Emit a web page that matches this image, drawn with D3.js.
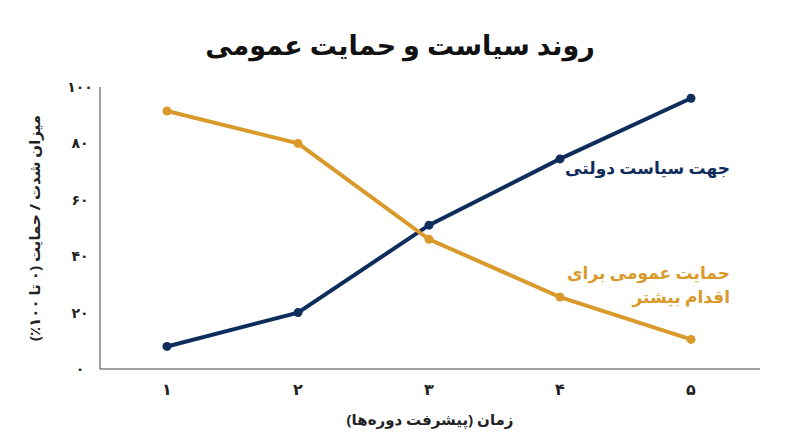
<!DOCTYPE html>
<html><head><meta charset="utf-8">
<script src="https://cdn.jsdelivr.net/npm/d3@7"></script>
<style>body{margin:0;background:#fff}text{font-family:"Noto Sans","DejaVu Sans",sans-serif}</style>
</head><body><svg id="c" width="800" height="447"></svg>
<script>
const periods=[1,2,3,4,5];
const xTickLabels=["۱","۲","۳","۴","۵"];
const yTicks=[0,20,40,60,80,100];
const yTickLabels=["۰","۲۰","۴۰","۶۰","۸۰","۱۰۰"];
const government=[8,20,51,74.5,96];
const publicSupport=[91.5,80,46,25.5,10.5];
const svg=d3.select("#c");
const x=d3.scaleLinear().domain([1,5]).range([167,691]);
const y=d3.scaleLinear().domain([0,100]).range([369,87]);
const navy="#0f2d5c", gold="#d99a2b";
svg.append("text").attr("x",400).attr("y",55).attr("text-anchor","middle").attr("font-size",27).attr("font-weight","bold").attr("fill","#111").text("روند سیاست و حمایت عمومی");
svg.append("line").attr("x1",100).attr("x2",100).attr("y1",87).attr("y2",369).attr("stroke","#444");
svg.append("line").attr("x1",100).attr("x2",760).attr("y1",369).attr("y2",369).attr("stroke","#444");
yTicks.forEach((t,i)=>svg.append("text").attr("x",80).attr("y",y(t)+5).attr("text-anchor","middle").attr("font-size",14).attr("font-weight","bold").attr("fill","#222").text(yTickLabels[i]));
periods.forEach((p,i)=>svg.append("text").attr("x",x(p)).attr("y",395).attr("text-anchor","middle").attr("font-size",16).attr("font-weight","bold").attr("fill","#222").text(xTickLabels[i]));
svg.append("text").attr("x",430).attr("y",425).attr("text-anchor","middle").attr("font-size",15).attr("font-weight","bold").attr("fill","#222").text("زمان (پیشرفت دوره‌ها)");
svg.append("text").attr("transform","translate(40,228) rotate(-90)").attr("text-anchor","middle").attr("font-size",15).attr("font-weight","bold").attr("fill","#222").text("میزان شدت / حمایت (۰ تا ۱۰۰٪)");
const line=d3.line().x((d,i)=>x(periods[i])).y(d=>y(d));
[[government,navy],[publicSupport,gold]].forEach(([s,c])=>{
 svg.append("path").attr("d",line(s)).attr("fill","none").attr("stroke",c).attr("stroke-width",4);
 svg.selectAll(null).data(s).enter().append("circle").attr("cx",(d,i)=>x(periods[i])).attr("cy",d=>y(d)).attr("r",4.5).attr("fill",c);
});
svg.append("text").attr("x",730).attr("y",174).attr("text-anchor","end").attr("font-size",17).attr("font-weight","bold").attr("fill",navy).text("جهت سیاست دولتی");
svg.append("text").attr("x",730).attr("y",279).attr("text-anchor","end").attr("font-size",17).attr("font-weight","bold").attr("fill",gold).text("حمایت عمومی برای");
svg.append("text").attr("x",730).attr("y",303).attr("text-anchor","end").attr("font-size",17).attr("font-weight","bold").attr("fill",gold).text("اقدام بیشتر");
</script></body></html>
